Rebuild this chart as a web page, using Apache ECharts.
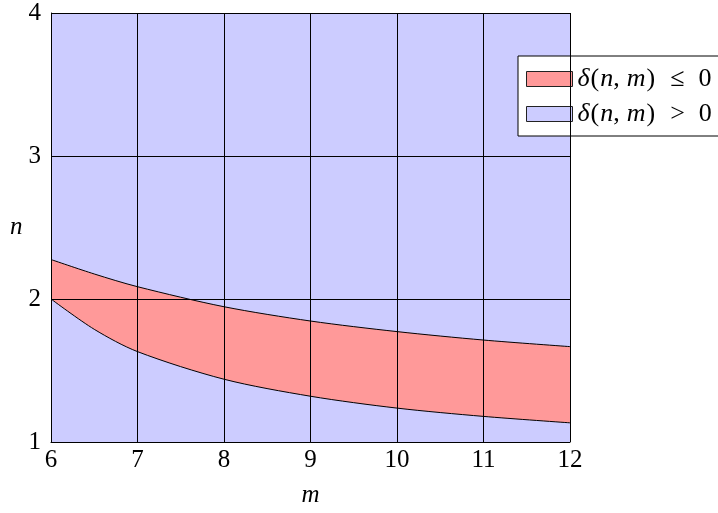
<!DOCTYPE html>
<html>
<head>
<meta charset="utf-8">
<script src="https://cdn.jsdelivr.net/npm/echarts@6/dist/echarts.min.js"></script>
<style>
html,body{margin:0;padding:0;background:#fff;}
#c{width:718px;height:513px;}
</style>
</head>
<body>
<div id="c"></div>
<script>
// m values (x) and boundary curves of the region delta(n,m) <= 0
var upperM = [6, 6.5, 7, 8, 9, 10, 11, 12];
var upperN = [2.276, 2.175, 2.086, 1.946, 1.846, 1.772, 1.713, 1.667];
var lowerM = [6, 6.5, 7, 8, 9, 10, 11, 12];
var lowerN = [2.0, 1.788, 1.632, 1.439, 1.32, 1.237, 1.179, 1.134];
var xTicks = [6, 7, 8, 9, 10, 11, 12];
var yTicks = [1, 2, 3, 4];
var legendNames = ['le', 'gt'];

var FONT = 'Liberation Serif';
var FS = 25;
var LFS = 26;
var RED = '#ff9999', BLUE = '#ccccff';

function pairs(xs, ys) { return xs.map(function (x, i) { return [x, ys[i]]; }); }

var rich = {
  i: { fontFamily: FONT, fontStyle: 'italic', fontSize: LFS, lineHeight: LFS, color: '#000' },
  r: { fontFamily: FONT, fontSize: LFS, lineHeight: LFS, color: '#000' },
  p: { fontFamily: FONT, fontSize: LFS, lineHeight: LFS, color: '#000', padding: [0, 1, 0, 1] },
  c: { fontFamily: FONT, fontSize: LFS, lineHeight: LFS, color: '#000', padding: [0, 7, 0, 0] },
  o: { fontFamily: FONT, fontSize: LFS, lineHeight: LFS, color: '#000', padding: [0, 14, 0, 14] }
};

var chart = echarts.init(document.getElementById('c'));
chart.setOption({
  animation: false,
  backgroundColor: '#fff',
  grid: { left: 51, top: 13, width: 519, height: 430, show: true, backgroundColor: BLUE, borderWidth: 0 },
  legend: {
    orient: 'vertical',
    left: 518, top: 56,
    itemWidth: 46, itemHeight: 15, itemGap: 9,
    padding: [10, 40, 9, 8],
    backgroundColor: '#fff',
    borderColor: '#000', borderWidth: 1, borderRadius: 0,
    icon: 'rect',
    data: [
      { name: legendNames[0], itemStyle: { color: RED, borderColor: '#222', borderWidth: 1 } },
      { name: legendNames[1], itemStyle: { color: BLUE, borderColor: '#222', borderWidth: 1 } }
    ],
    formatter: function (name) {
      var op = name === 'le' ? '≤' : '>';
      return '{i|δ}{p|(}{i|n}{c|,}{i|m}{p|)}{o|' + op + '}{r|0}';
    },
    textStyle: { rich: rich, fontFamily: FONT, fontSize: LFS }
  },
  xAxis: {
    type: 'value', min: xTicks[0], max: xTicks[xTicks.length - 1], interval: 1, z: 5,
    name: 'm', nameLocation: 'middle', nameGap: 41,
    nameTextStyle: { fontFamily: FONT, fontStyle: 'italic', fontSize: FS, color: '#000' },
    axisLine: { show: true, onZero: false, lineStyle: { color: '#000', width: 1 } },
    axisTick: { show: false },
    axisLabel: { color: '#000', fontFamily: FONT, fontSize: FS, margin: 6 },
    splitLine: { show: true, lineStyle: { color: '#000', width: 1 } }
  },
  yAxis: {
    type: 'value', min: yTicks[0], max: yTicks[yTicks.length - 1], interval: 1, z: 5,
    name: 'n', nameLocation: 'middle', nameGap: 26, nameRotate: 0,
    nameTextStyle: { fontFamily: FONT, fontStyle: 'italic', fontSize: FS, color: '#000' },
    axisLine: { show: true, onZero: false, lineStyle: { color: '#000', width: 1 } },
    axisTick: { show: false },
    axisLabel: { color: '#000', fontFamily: FONT, fontSize: FS, margin: 10 },
    splitLine: { show: true, lineStyle: { color: '#000', width: 1 } }
  },
  series: [
    {
      name: legendNames[0], type: 'line', z: 2,
      data: pairs(upperM, upperN), smooth: 0.3, showSymbol: false,
      color: RED,
      lineStyle: { color: '#000', width: 1 },
      areaStyle: { color: RED, opacity: 1, origin: 'start' }
    },
    {
      name: legendNames[1], type: 'line', z: 3,
      data: pairs(lowerM, lowerN), smooth: 0.3, showSymbol: false,
      color: BLUE,
      lineStyle: { color: '#000', width: 1 },
      areaStyle: { color: BLUE, opacity: 1, origin: 'start' }
    }
  ]
});
</script>
</body>
</html>
